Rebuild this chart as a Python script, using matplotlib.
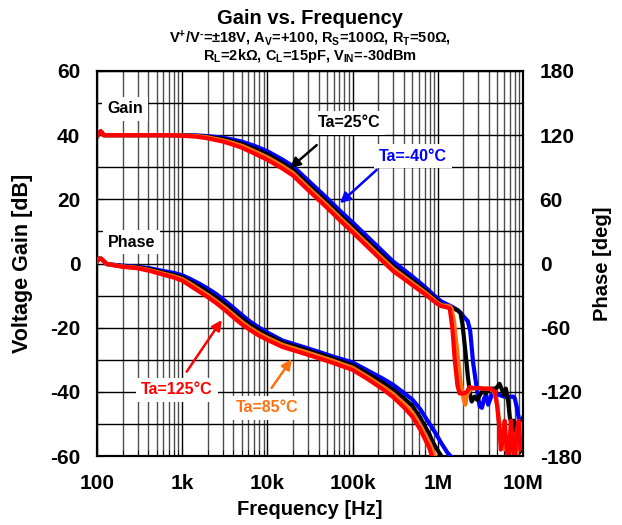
import matplotlib
matplotlib.use("Agg")
import matplotlib.pyplot as plt
from matplotlib.ticker import FixedLocator, LogLocator, MultipleLocator, NullFormatter

plt.rcParams["font.family"] = ["Liberation Sans", "DejaVu Sans"]
plt.rcParams["font.weight"] = "bold"
plt.rcParams["axes.unicode_minus"] = False
plt.rcParams["mathtext.fontset"] = "custom"
plt.rcParams["mathtext.rm"] = "Liberation Sans:bold"
plt.rcParams["mathtext.it"] = "Liberation Sans:bold"
plt.rcParams["mathtext.bf"] = "Liberation Sans:bold"

# ---- data ----
temps = ["Ta=-40°C", "Ta=25°C", "Ta=85°C", "Ta=125°C"]
colors = ["#0000FF", "#000000", "#FF7010", "#FF0000"]

# gain, shared part (Hz, dB)
gain_freq = [100, 105, 111, 120, 150, 200, 300, 500, 700, 1e3, 1.5e3, 2e3, 3e3, 4e3, 5e3, 7e3,
             1e4, 1.5e4, 2e4, 3e4, 5e4, 7e4, 1e5, 1.5e5, 2e5, 3e5, 4e5, 5e5, 7e5, 1e6]
gain_m40 = [39.6, 40.6, 41.2, 40.0, 40.0, 40.0, 40.0, 40.0, 40.0, 40.0, 39.9, 39.7, 39.2, 38.6, 38.0, 36.7,
            35.0, 32.4, 30.3, 25.9, 20.4, 16.6, 12.8, 8.3, 5.1, 0.6, -2.0, -4.0, -7.2, -11.0]
gain_25 = [39.6, 40.6, 41.2, 40.0, 40.0, 40.0, 40.0, 40.0, 40.0, 39.95, 39.8, 39.5, 38.8, 38.0, 37.3, 35.8,
           34.0, 31.3, 29.1, 24.6, 19.1, 15.3, 11.4, 6.9, 3.7, -0.8, -3.3, -5.2, -8.2, -11.8]
gain_85 = [39.6, 40.6, 41.2, 40.0, 40.0, 40.0, 40.0, 40.0, 40.0, 39.9, 39.7, 39.3, 38.4, 37.5, 36.7, 35.0,
           33.1, 30.4, 28.2, 23.7, 18.2, 14.4, 10.5, 6.0, 2.8, -1.6, -4.1, -6.0, -8.9, -12.3]
gain_125 = [39.6, 40.6, 41.2, 40.0, 40.0, 40.0, 40.0, 40.0, 40.0, 39.8, 39.5, 39.0, 38.0, 37.0, 36.1, 34.3,
            32.3, 29.6, 27.4, 22.9, 17.4, 13.6, 9.7, 5.2, 2.0, -2.4, -4.8, -6.7, -9.5, -12.7]

# gain, high-frequency tails (MHz, dB)
tail_f_m40 = [1.1, 1.3, 1.5, 1.8, 2.0, 2.25, 2.4, 2.6, 2.8, 2.95, 3.1, 3.3, 3.5, 3.7, 3.9, 4.3, 4.7,
              5.3, 6.0, 7.0, 7.7, 8.0, 8.5, 9.0, 9.5, 10.0]
tail_g_m40 = [-11.8, -12.8, -13.6, -15, -16.5, -18, -21, -31, -37, -41, -44.5, -45, -42, -41, -44, -41, -40.5,
              -41, -41.5, -41.5, -41.5, -42, -45, -49, -49.5, -48]
tail_f_25 = [1.1, 1.3, 1.5, 1.7, 1.85, 1.95, 2.1, 2.25, 2.4, 2.5, 2.7, 2.9, 3.2, 3.4, 3.6, 3.9, 4.3, 4.7,
             5.0, 5.3, 5.6, 6.0, 6.3, 6.7, 7.0, 7.4, 7.8, 8.2, 8.6, 9.0, 10.0]
tail_g_25 = [-12.8, -13.5, -14.0, -14.5, -15.5, -19, -27, -35, -41, -43, -41.5, -42.5, -40.5, -39.5, -40.5,
             -39.5, -39, -39, -38.5, -37.5, -39, -41, -39, -43, -48, -50, -49, -53, -57, -59, -57]
tail_f_85 = [1.1, 1.25, 1.38, 1.45, 1.55, 1.7, 1.85, 2.0, 2.1, 2.2, 2.35, 2.6, 3.0, 3.5, 4.1, 4.6, 5.0,
             5.3, 5.7, 6.2, 7.0, 7.6, 8.0, 8.5, 9.0, 9.5, 10.0]
tail_g_85 = [-13.0, -13.2, -13.4, -14.0, -18, -28, -37, -42, -44, -41, -39.5, -39, -38.8, -39, -39, -40, -44,
             -50, -56, -58, -57, -53, -57, -60, -52, -57, -50]
tail_f_125 = [1.1, 1.25, 1.38, 1.48, 1.58, 1.7, 1.8, 2.0, 2.2, 2.35, 2.6, 3.0, 3.5, 4.2, 4.7, 5.0, 5.3,
              5.5, 5.8, 6.1, 6.4, 6.7, 7.0, 7.2, 7.6, 8.0, 8.4, 8.9, 9.3, 10.0]
tail_g_125 = [-13.3, -13.6, -14.0, -20, -30, -38, -40.5, -40.5, -40.0, -38.5, -38.8, -38.8, -39.0, -39.0,
              -40.0, -45, -52, -58, -55, -49, -57, -62, -55, -49, -58, -62, -52, -49, -58, -55]

# phase (Hz, deg)
phase_freq = [100, 106, 112, 130, 200, 300, 420, 600, 800, 1e3, 1.25e3, 1.6e3, 2e3, 2.5e3, 3.2e3, 4e3,
              5e3, 6.2e3, 8e3, 1e4, 1.5e4, 2.4e4, 3.8e4, 5.9e4, 1e5, 1.5e5, 2.3e5, 3e5, 4e5, 5e5,
              6.2e5, 8e5, 8.5e5, 9.3e5, 1.1e6, 1.3e6, 1.45e6, 1.6e6]
phase_m40 = [2, 4.5, 4.5, -0.5, -2.0, -3.0, -4.5, -7, -8.8, -11, -14.5, -19, -23.5, -28.5, -35, -41.5,
             -48, -54, -60, -64.5, -72, -77, -82, -87, -92.5, -100, -108, -113.5, -121, -127,
             -136, -150, -153, -158, -168, -177, -181, -190]
phase_25 = [2, 4.5, 4.5, -0.5, -2.5, -3.5, -5.5, -8.5, -10.7, -13, -17, -22, -26.8, -32, -38.5, -45,
            -51.5, -57, -62.5, -67, -74, -79, -84, -89, -95, -103, -112, -118, -126, -133,
            -144, -160, -165, -171, -180, -192, -200, -210]
phase_85 = [2, 4.5, 4.5, -0.5, -2.8, -4.0, -6.3, -9.5, -12, -14.5, -19, -24.5, -29.5, -35, -41.5, -48,
            -54.5, -60, -65.5, -69.5, -76, -81, -86, -91, -97.5, -106, -115.5, -122, -131, -139,
            -151, -168, -173, -180, -195, -205, -215, -225]
phase_125 = [2, 4.5, 4.5, -0.5, -3.1, -4.5, -7.0, -10.5, -13.2, -16, -21, -26.5, -31.5, -37, -43.8, -50.5,
             -56.8, -62, -67.5, -71.5, -78, -83, -88, -93, -99.5, -108, -118, -125, -134.5, -143,
             -155, -173, -180, -188, -200, -210, -220, -230]

x_ticks = [1e2, 1e3, 1e4, 1e5, 1e6, 1e7]
x_ticklabels = ["100", "1k", "10k", "100k", "1M", "10M"]


def main():
    fig = plt.figure(figsize=(6.22, 5.25), dpi=100)
    ax = fig.add_axes([97 / 622, 1 - 456 / 525, 426 / 622, 385 / 525])
    ax2 = ax.twinx()

    gains = [gain_m40, gain_25, gain_85, gain_125]
    tails_f = [tail_f_m40, tail_f_25, tail_f_85, tail_f_125]
    tails_g = [tail_g_m40, tail_g_25, tail_g_85, tail_g_125]
    phases = [phase_m40, phase_25, phase_85, phase_125]

    for g, tf, tg, p, c in zip(gains, tails_f, tails_g, phases, colors):
        f_all = gain_freq + [v * 1e6 for v in tf]
        ax.plot(f_all, g + tg, color=c, lw=3.0, solid_joinstyle="round", zorder=3)
        ax2.plot(phase_freq, p, color=c, lw=3.0, solid_joinstyle="round", zorder=3)

    ax.set_xscale("log")
    ax.set_xlim(1e2, 1e7)
    ax.set_ylim(-60, 60)
    ax2.set_ylim(-180, 180)

    ax.xaxis.set_major_locator(FixedLocator(x_ticks))
    ax.set_xticklabels(x_ticklabels)
    ax.xaxis.set_minor_locator(LogLocator(base=10, subs=range(2, 10)))
    ax.xaxis.set_minor_formatter(NullFormatter())
    ax.yaxis.set_major_locator(MultipleLocator(20))
    ax.yaxis.set_minor_locator(MultipleLocator(10))
    ax2.yaxis.set_major_locator(MultipleLocator(60))

    ax.tick_params(axis="both", which="both", direction="in", labelsize=15)
    ax.tick_params(axis="x", which="major", length=7, pad=13)
    ax.tick_params(axis="x", which="minor", length=4)
    ax.tick_params(axis="y", which="both", length=5, pad=12)
    ax2.tick_params(axis="y", length=0, labelsize=15, pad=12)

    ax.grid(True, which="major", axis="both", color="black", lw=1.0, zorder=0)
    ax.grid(True, which="minor", axis="y", color="black", lw=1.0, zorder=0)
    ax.grid(True, which="minor", axis="x", color="0.3", lw=1.0, zorder=0)

    for sp in list(ax.spines.values()) + list(ax2.spines.values()):
        sp.set_linewidth(1.5)

    ax.set_xlabel("Frequency [Hz]", fontsize=14.5, fontweight="bold")
    ax.xaxis.set_label_coords(0.5, -0.114)
    ax.set_ylabel("Voltage Gain [dB]", fontsize=15.5, fontweight="bold")
    ax.yaxis.set_label_coords(-0.15, 0.5)
    ax2.set_ylabel("Phase [deg]", fontsize=14.5, fontweight="bold")
    ax2.yaxis.set_label_coords(1.164, 0.5)

    fig.text(310 / 622, 1 - 18 / 525, "Gain vs. Frequency", ha="center", va="center",
             fontsize=14.5, fontweight="bold")
    fig.text(310 / 622, 1 - 38 / 525,
             r"V$^{+}$/V$^{\text{-}}$=±18V, A$_{V}$=+100, R$_{S}$=100Ω, R$_{T}$=50Ω,",
             ha="center", va="center", fontsize=10.5, fontweight="bold")
    fig.text(310 / 622, 1 - 56 / 525,
             r"R$_{L}$=2kΩ, C$_{L}$=15pF, V$_{IN}$=-30dBm",
             ha="center", va="center", fontsize=10.5, fontweight="bold")

    box = dict(boxstyle="square,pad=0.3", fc="white", ec="none")
    ax.text(213, 48.2, "Gain", ha="center", va="center", fontsize=11.5, fontweight="bold",
            bbox=box, zorder=4)
    ax.text(257, 6.7, "Phase", ha="center", va="center", fontsize=11.5, fontweight="bold",
            bbox=box, zorder=4)

    notes = [
        ("Ta=25°C", (9.08e4, 43.8), (3.79e4, 36.9), (1.84e4, 29.7), "black"),
        ("Ta=-40°C", (5.12e5, 33.5), (1.92e5, 29.2), (7.1e4, 18.8), "#0000FF"),
        ("Ta=125°C", (869, -39.4), (1.13e3, -33.7), (2.91e3, -17.6), "#FF0000"),
        ("Ta=85°C", (9.9e3, -45.0), (1.12e4, -38.8), (1.93e4, -29.8), "#FF7010"),
    ]
    for label, txy, start, tip, c in notes:
        ax.text(txy[0], txy[1], label, ha="center", va="center", fontsize=11.5,
                fontweight="bold", color=c, bbox=box, zorder=4)
        ax.annotate("", xy=tip, xytext=start,
                    arrowprops=dict(arrowstyle="-|>,head_length=0.6,head_width=0.3",
                                    color=c, lw=1.8, shrinkA=0, shrinkB=0), zorder=4)

    fig.savefig("out.png", dpi=100)


if __name__ == "__main__":
    main()
